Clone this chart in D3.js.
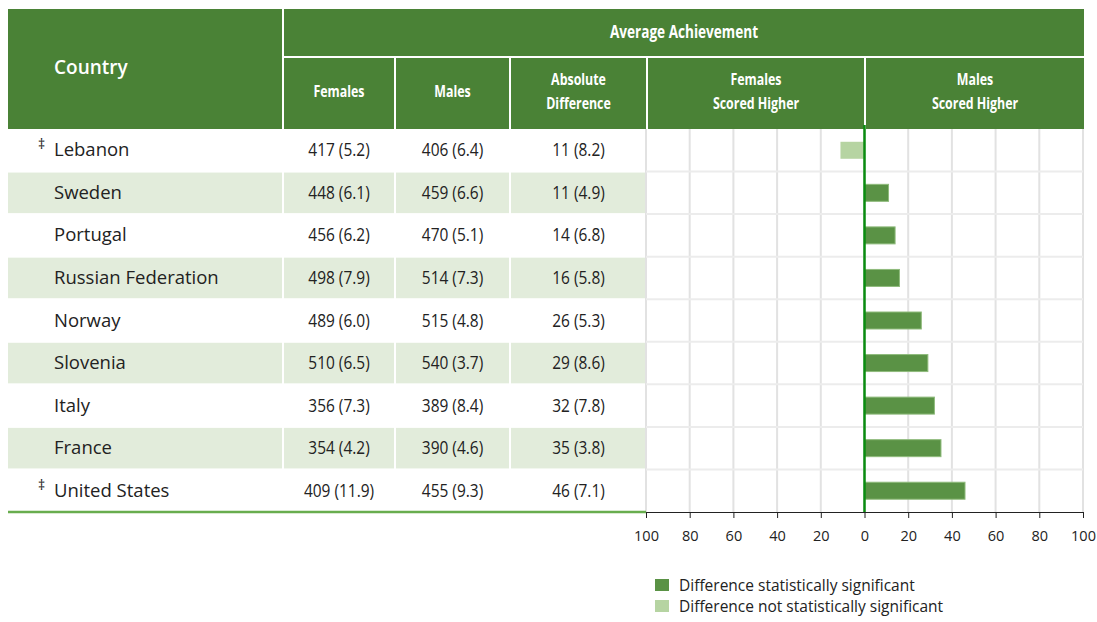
<!DOCTYPE html>
<html>
<head>
<meta charset="utf-8">
<script src="https://cdn.jsdelivr.net/npm/d3@7.9.0/dist/d3.min.js"></script>
<style>
  body { margin: 0; background: #fff; }
  svg { display: block; }
  .plain { font-family: "Open Sans", "Noto Sans", sans-serif; }
</style>
</head>
<body>
<svg id="chart" width="1097" height="622"></svg>
<script>
const countries = ['Lebanon', 'Sweden', 'Portugal', 'Russian Federation', 'Norway', 'Slovenia', 'Italy', 'France', 'United States'];
const flagged   = [true, false, false, false, false, false, false, false, true];
const females   = ['417 (5.2)', '448 (6.1)', '456 (6.2)', '498 (7.9)', '489 (6.0)', '510 (6.5)', '356 (7.3)', '354 (4.2)', '409 (11.9)'];
const males     = ['406 (6.4)', '459 (6.6)', '470 (5.1)', '514 (7.3)', '515 (4.8)', '540 (3.7)', '389 (8.4)', '390 (4.6)', '455 (9.3)'];
const absDiff   = ['11 (8.2)', '11 (4.9)', '14 (6.8)', '16 (5.8)', '26 (5.3)', '29 (8.6)', '32 (7.8)', '35 (3.8)', '46 (7.1)'];
// signed: negative = females higher
const diffs     = [-11, 11, 14, 16, 26, 29, 32, 35, 46];
const significant = [false, true, true, true, true, true, true, true, true];
const tickValues = [-100, -80, -60, -40, -20, 0, 20, 40, 60, 80, 100];
const legendItems = ['Difference statistically significant', 'Difference not statistically significant'];

const GREEN = '#4a8236', SHADE = '#e2ecdb', SIG = '#5a9245', NONSIG = '#b6d4a2';
const svg = d3.select('#chart');

// condensed text: squeeze a normal face horizontally
function condText(cx, cy, str, size, weight, fill, sx = 0.8) {
  return svg.append('text').attr('class', 'plain')
    .attr('transform', `translate(${cx},${cy}) scale(${sx},1)`)
    .attr('text-anchor', 'middle').attr('fill', fill)
    .style('font-size', size + 'px').style('font-weight', weight).text(str);
}

const cols = [
  { x0: 8, x1: 282 },
  { x0: 284, x1: 394, label: ['Females'] },
  { x0: 396, x1: 509, label: ['Males'] },
  { x0: 511, x1: 646, label: ['Absolute', 'Difference'] },
];
const headTop = 9, headMid = 57, headBot = 129, bodyBot = 512;

const x = d3.scaleLinear().domain([-100, 100]).range([646, 1083]);
const y = d3.scaleBand().domain(countries).range([headBot, bodyBot]);

// header background
svg.append('rect').attr('x', 8).attr('y', headTop).attr('width', 1076).attr('height', headBot - headTop).attr('fill', GREEN);
svg.append('line').attr('x1', 283).attr('x2', 1084).attr('y1', headMid).attr('y2', headMid)
  .attr('stroke', '#fff').attr('stroke-width', 2);
[283, 395, 510, 647, 865].forEach((sx, i) => {
  svg.append('line').attr('x1', sx).attr('x2', sx)
    .attr('y1', i === 0 ? headTop : headMid).attr('y2', headBot)
    .attr('stroke', '#fff').attr('stroke-width', 2);
});

svg.append('text').attr('class', 'plain').attr('x', 54).attr('y', 74)
  .attr('fill', '#fff').style('font-size', '19px').style('font-weight', 600).text('Country');
condText(684, 38, 'Average Achievement', 17, 'bold', '#fff');

const subHeads = cols.slice(1).map(c => ({ cx: (c.x0 + c.x1) / 2, label: c.label }))
  .concat([{ cx: 756, label: ['Females', 'Scored Higher'] }, { cx: 975, label: ['Males', 'Scored Higher'] }]);
subHeads.forEach(h => {
  if (h.label.length === 1) {
    condText(h.cx, 97, h.label[0], 15.5, 'bold', '#fff');
  } else {
    condText(h.cx, 85, h.label[0], 15.5, 'bold', '#fff');
    condText(h.cx, 109, h.label[1], 15.5, 'bold', '#fff');
  }
});

// body rows
countries.forEach((c, i) => {
  const y0 = y(c), bh = y.bandwidth(), cy = y0 + bh / 2;
  if (i % 2 === 1) {
    cols.forEach(col => {
      svg.append('rect').attr('x', col.x0).attr('y', y0 + 1).attr('width', col.x1 - col.x0).attr('height', bh - 2).attr('fill', SHADE);
    });
  }
  if (flagged[i]) {
    svg.append('text').attr('class', 'plain').attr('x', 38).attr('y', cy - 1).attr('fill', '#222')
      .style('font-size', '14px').text('‡');
  }
  svg.append('text').attr('class', 'plain').attr('x', 54).attr('y', cy + 6).attr('fill', '#222')
    .style('font-size', '18.5px').text(c);
  [females[i], males[i], absDiff[i]].forEach((v, k) => {
    const col = cols[k + 1];
    condText((col.x0 + col.x1) / 2, cy + 6, v, 18, 'normal', '#222', 0.86);
  });
});

// chart grid
tickValues.forEach(t => {
  svg.append('line').attr('x1', x(t)).attr('x2', x(t)).attr('y1', headBot).attr('y2', bodyBot)
    .attr('stroke', '#e2e2e2').attr('stroke-width', 2);
});
countries.slice(1).forEach(c => {
  svg.append('line').attr('x1', 646).attr('x2', 1083).attr('y1', y(c)).attr('y2', y(c))
    .attr('stroke', '#ececec').attr('stroke-width', 2);
});

// bars
const barH = 17;
countries.forEach((c, i) => {
  const v = diffs[i];
  svg.append('rect')
    .attr('x', x(Math.min(0, v))).attr('width', Math.abs(x(v) - x(0)))
    .attr('y', y(c) + y.bandwidth() / 2 - barH / 2).attr('height', barH)
    .attr('fill', significant[i] ? SIG : NONSIG)
    .attr('stroke', significant[i] ? '#8fbb7c' : 'none').attr('stroke-width', 1);
});

// zero line
svg.append('line').attr('x1', x(0)).attr('x2', x(0)).attr('y1', headBot - 4).attr('y2', bodyBot)
  .attr('stroke', '#0a8c10').attr('stroke-width', 2.5);

// bottom green rule of the table
svg.append('line').attr('x1', 8).attr('x2', 646).attr('y1', bodyBot).attr('y2', bodyBot)
  .attr('stroke', '#68ad4e').attr('stroke-width', 2.5);

// axis
const axis = svg.append('g').attr('transform', `translate(0,${bodyBot})`)
  .call(d3.axisBottom(x).tickValues(tickValues).tickFormat(d => Math.abs(d)).tickSizeOuter(0).tickSize(6));
axis.select('.domain').attr('stroke', '#222');
axis.selectAll('.tick line').attr('stroke', '#222');
axis.selectAll('.tick text').attr('class', 'plain').attr('fill', '#222').attr('dy', '1.4em').style('font-size', '14.5px');

// legend
legendItems.forEach((txt, i) => {
  const g = svg.append('g').attr('transform', `translate(655,${579 + i * 21})`);
  g.append('rect').attr('width', 14).attr('height', 12).attr('fill', i === 0 ? SIG : NONSIG);
  g.append('text').attr('class', 'plain').attr('x', 24).attr('y', 12).attr('fill', '#222')
    .style('font-size', '15.5px').text(txt);
});
</script>
</body>
</html>
